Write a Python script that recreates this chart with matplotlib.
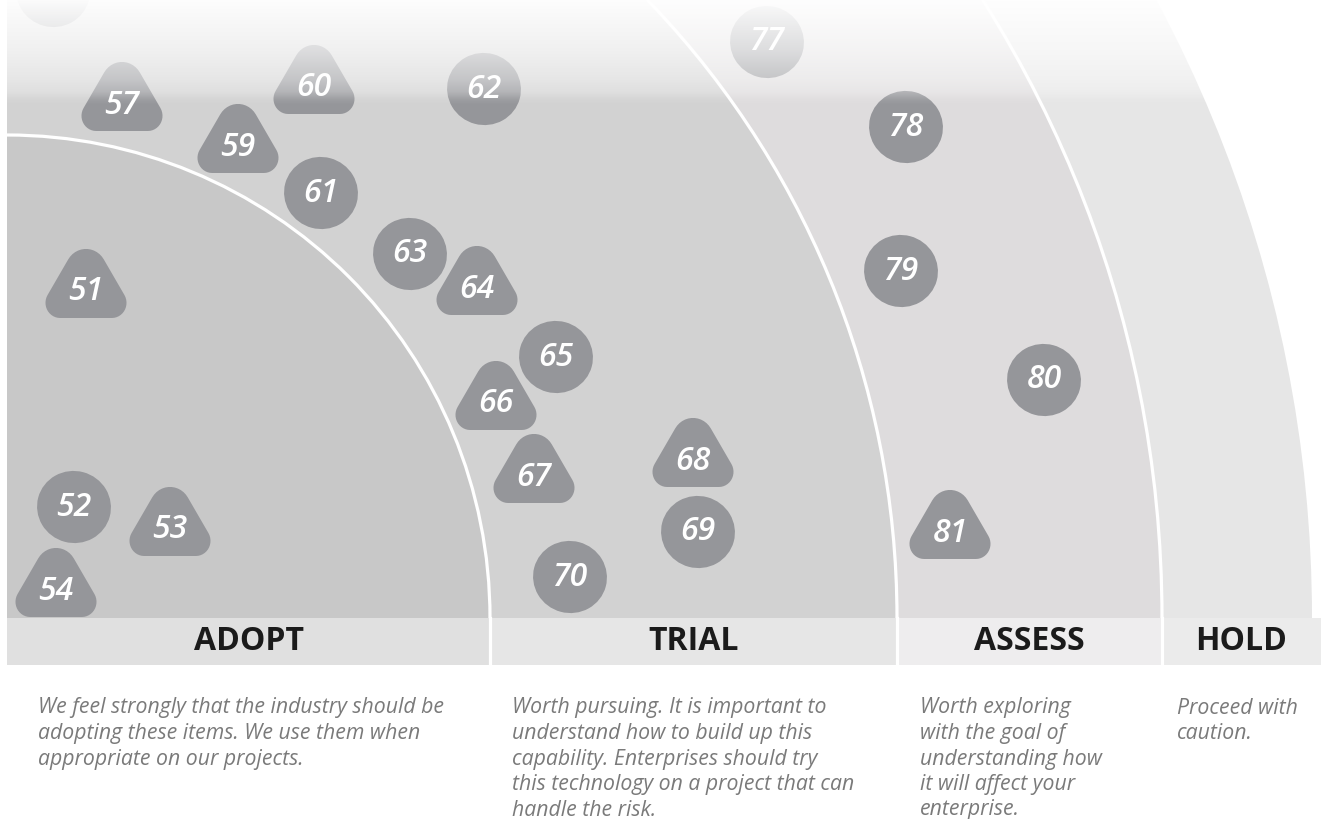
import numpy as np
import matplotlib
matplotlib.use("Agg")
import matplotlib.pyplot as plt
from matplotlib.patches import Wedge, Arc, Rectangle, Polygon, Ellipse

# radar plane: origin at the centre of the quadrant, units are pixels
RING_NAMES = ["ADOPT", "TRIAL", "ASSESS", "HOLD"]
RING_RADII = [483, 890, 1155, 1305]
RING_DESCRIPTIONS = [
    ["We feel strongly that the industry should be",
     "adopting these items. We use them when",
     "appropriate on our projects."],
    ["Worth pursuing. It is important to",
     "understand how to build up this",
     "capability. Enterprises should try",
     "this technology on a project that can",
     "handle the risk."],
    ["Worth exploring",
     "with the goal of",
     "understanding how",
     "it will affect your",
     "enterprise."],
    ["Proceed with",
     "caution."],
]
DESC_X = [31, 505, 913, 1170]

BLIP_IDS = [51, 52, 53, 54, 56, 57, 59, 60, 61, 62, 63, 64,
            65, 66, 67, 68, 69, 70, 77, 78, 79, 80, 81]
BLIP_X = [79, 67, 163, 49, 46, 115, 231, 307, 314, 477, 403, 470,
          549, 489, 527, 686, 691, 563, 760, 899, 894, 1037, 943]
BLIP_Y = [326, 111, 88, 27, 627, 513, 471, 530, 425, 529, 364, 329,
          261, 214, 141, 157, 86, 41, 576, 491, 347, 238, 85]
# t = new/moved (triangle), c = unchanged (circle)
BLIP_SHAPES = ["t", "c", "t", "t", "c", "t", "t", "t", "c", "c", "c", "t",
               "c", "t", "t", "t", "c", "c", "c", "c", "c", "c", "t"]

RING_COLORS = ["#c8c8c8", "#d2d2d2", "#dedcdd", "#e6e6e6"]
BAND_COLORS = ["#e0e0e0", "#e6e6e6", "#eeedee", "#ebebeb"]
BLIP_COLOR = "#95969a"
FONT = "Open Sans"
TOP = 618  # visible height of the quadrant above its centre


def rounded_polygon(verts, radii, n=14):
    verts = np.asarray(verts, float)
    pts = []
    for i in range(len(verts)):
        p, a, b = verts[i], verts[i - 1], verts[(i + 1) % len(verts)]
        u1 = (a - p) / np.linalg.norm(a - p)
        u2 = (b - p) / np.linalg.norm(b - p)
        theta = np.arccos(np.clip(u1 @ u2, -1, 1))
        r = radii[i]
        bis = (u1 + u2) / np.linalg.norm(u1 + u2)
        c = p + bis * r / np.sin(theta / 2)
        t1 = p + u1 * r / np.tan(theta / 2)
        t2 = p + u2 * r / np.tan(theta / 2)
        a1 = np.arctan2(*(t1 - c)[::-1])
        a2 = np.arctan2(*(t2 - c)[::-1])
        diff = (a2 - a1 + np.pi) % (2 * np.pi) - np.pi
        ang = a1 + diff * np.linspace(0, 1, n)
        pts.append(np.column_stack([c[0] + r * np.cos(ang), c[1] + r * np.sin(ang)]))
    return np.vstack(pts)


# unit triangle blip, scaled to its pixel box later
TRI = rounded_polygon([(0, 1.0), (-0.6, 0), (0.6, 0)], [0.24, 0.17, 0.17])
TRI = (TRI - TRI.min(0)) / (TRI.max(0) - TRI.min(0))

fig = plt.figure(figsize=(13.21, 8.19), dpi=100)
ax = fig.add_axes([0, 0, 1, 1])

# rings, outermost first
inner = [0] + RING_RADII[:-1]
for r0, r1, col in reversed(list(zip(inner, RING_RADII, RING_COLORS))):
    ax.add_patch(Wedge((0, 0), r1, 0, 90, width=r1 - r0, facecolor=col,
                       edgecolor="none", zorder=1))
for r in RING_RADII[:-1]:
    ax.add_patch(Arc((0, 0), 2 * r, 2 * r, theta1=0, theta2=90,
                     color="white", lw=2.3, zorder=2))

# label band under the quadrant
band_edges = [0] + RING_RADII[:-1] + [1314]
for i, name in enumerate(RING_NAMES):
    x0, x1 = band_edges[i], band_edges[i + 1]
    ax.add_patch(Rectangle((x0, -47), x1 - x0, 47, facecolor=BAND_COLORS[i],
                           edgecolor="none", zorder=1))
    ax.text((x0 + x1) / 2, -23, name, ha="center", va="center", fontsize=23,
            fontweight="bold", family=FONT, color="#1b1b1b", zorder=3)
    for k, line in enumerate(RING_DESCRIPTIONS[i]):
        ax.text(DESC_X[i], -90 - 25.5 * k, line, ha="left", va="center",
                fontsize=15.3, style="italic", family=FONT, color="#7a7a7a")
for r in RING_RADII[:-1]:
    ax.plot([r, r], [0, -47], color="white", lw=2.3, zorder=2)

# blips
for bid, bx, by, shape in zip(BLIP_IDS, BLIP_X, BLIP_Y, BLIP_SHAPES):
    if shape == "t":
        pts = TRI * [81, 69] + [bx - 40.5, by - 26]
        ax.add_patch(Polygon(pts, closed=True, facecolor=BLIP_COLOR,
                             edgecolor="none", zorder=4))
    else:
        ax.add_patch(Ellipse((bx, by), 74, 72, angle=-15, facecolor=BLIP_COLOR,
                             edgecolor="none", zorder=4))
    if by < TOP:  # label of a blip cut by the top edge stays hidden
        ax.text(bx, by, str(bid), ha="center", va="center", fontsize=23,
                style="italic", fontweight="semibold", family=FONT,
                color="white", zorder=5)

# white fade across the top edge
py = np.arange(106)
alpha = np.interp(py, [0, 20, 50, 80, 92, 100, 105],
                  [0.97, 0.85, 0.68, 0.45, 0.3, 0.08, 0.0])
overlay = np.ones((len(py), 2, 4))
overlay[:, :, 3] = alpha[:, None]
ax.imshow(overlay, extent=(-7, 1314, TOP - 105, TOP), origin="upper",
          aspect="auto", zorder=6, interpolation="bilinear")

ax.set_xlim(-7, 1314)
ax.set_ylim(-201, TOP)
ax.axis("off")

fig.savefig("out.png", dpi=100)
